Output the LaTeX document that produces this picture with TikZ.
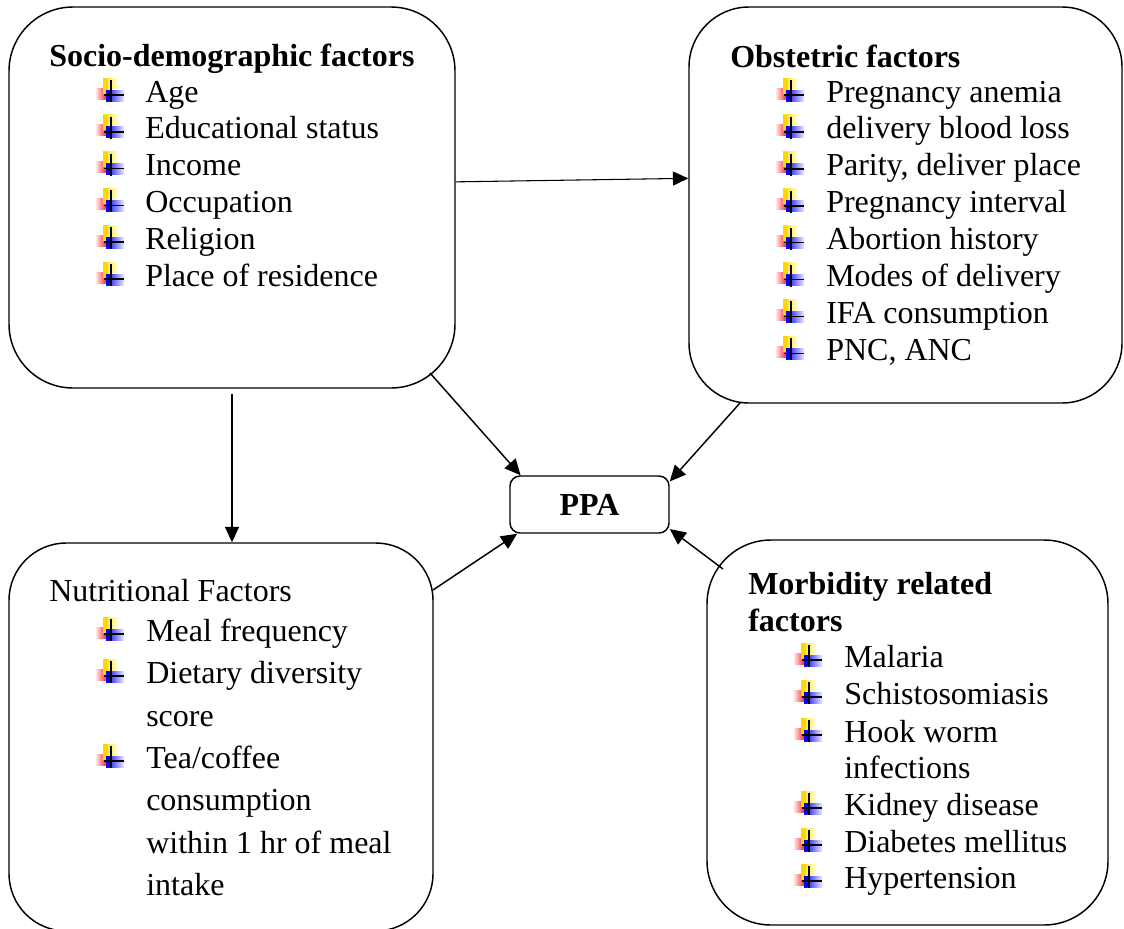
\documentclass[tikz,border=0pt]{standalone}
\usepackage{fontspec}
\setmainfont{Liberation Serif}
\usetikzlibrary{arrows.meta}
\newcommand\pxu{0.75pt}
\tikzset{
  bigbox/.style={draw, line width=1.1pt, inner sep=0pt},
  txt/.style={anchor=base west, inner sep=0pt, font=\fontsize{24}{28}\selectfont},
  ttl/.style={txt, font=\fontsize{24}{28}\selectfont\bfseries},
  thinarr/.style={line width=0.8pt, -{Triangle[length=11.5pt,width=10.5pt]}},
  arr/.style={line width=1.1pt, -{Triangle[length=12pt,width=11pt]}},
  bul/.pic={
    \shade[left color=red!10, right color=red!90] (0,-14) rectangle (11,-3);
    \shade[left color=yellow!75!orange, right color=yellow!10] (7,-24) rectangle (22,-9);
    \fill[yellow!75!orange] (7,-24) rectangle (12,-9);
    \shade[left color=blue, right color=blue!8] (10,-12) rectangle (28,-1);
    \fill[blue] (10,-12) rectangle (15,-1);
    \draw[line width=1.2pt] (15,-22) -- (15,0);
    \draw[line width=1.2pt] (8,-7) -- (28,-7);
  }
}
\begin{document}
\begin{tikzpicture}[x=0.75pt,y=-0.75pt]
\useasboundingbox (0,0) rectangle (1124,928);

% boxes
\node[bigbox, rounded corners=48pt, minimum width=446*\pxu, minimum height=381*\pxu] (soc) at (232,197.5) {};
\node[bigbox, rounded corners=45pt, minimum width=433*\pxu, minimum height=396*\pxu] (obs) at (905.5,205) {};
\node[bigbox, rounded corners=43pt, minimum width=424*\pxu, minimum height=388*\pxu] (nut) at (221,737) {};
\node[bigbox, rounded corners=48pt, minimum width=401*\pxu, minimum height=385*\pxu] (mor) at (907.5,732.5) {};
\node[bigbox, rounded corners=7.5pt, minimum width=159*\pxu, minimum height=57*\pxu,
      font=\fontsize{24}{28}\selectfont\bfseries] (ppa) at (589.5,504.5) {PPA};

% Socio-demographic
\node[ttl] (st) at (49,66) {Socio-demographic factors};
\foreach \t [count=\i from 0] in {Age,Educational status,Income,Occupation,Religion,Place of residence}{
  \node[txt] (s\i) at (145,102+36.8*\i) {\t};
  \pic at (96,102+36.8*\i) {bul};
}

% Obstetric
\node[ttl] (ot) at (730,67) {Obstetric factors};
\foreach \t [count=\i from 0] in {Pregnancy anemia,delivery blood loss,{Parity, deliver place},Pregnancy interval,Abortion history,Modes of delivery,IFA consumption,{PNC, ANC}}{
  \node[txt] (o\i) at (826,102+36.9*\i) {\t};
  \pic at (776,102+36.9*\i) {bul};
}

% Nutritional
\node[txt] (nt) at (49,601) {Nutritional Factors};
\node[txt] (n1) at (146,641) {Meal frequency};
\node[txt] (n2) at (146,683) {Dietary diversity};
\node[txt] (n3) at (146,726) {score};
\node[txt] (n4) at (146,768) {Tea/coffee};
\node[txt] (n5) at (146,810) {consumption};
\node[txt] (n6) at (146,853) {within 1 hr of meal};
\node[txt] (n7) at (146,895) {intake};
\pic at (96,641) {bul};
\pic at (96,683) {bul};
\pic at (96,768) {bul};

% Morbidity
\node[ttl] (mt1) at (748,594) {Morbidity related};
\node[ttl] (mt2) at (748,631) {factors};
\node[txt] (m1) at (844,667) {Malaria};
\node[txt] (m2) at (844,704) {Schistosomiasis};
\node[txt] (m3) at (844,742) {Hook worm};
\node[txt] (m4) at (844,778) {infections};
\node[txt] (m5) at (844,815) {Kidney disease};
\node[txt] (m6) at (844,852) {Diabetes mellitus};
\node[txt] (m7) at (844,888) {Hypertension};
\foreach \y in {667,704,742,815,852,888}{ \pic at (794,\y) {bul}; }

% connectors
\coordinate (c1) at (430,373);
\coordinate (c2) at (740,403);
\coordinate (c3) at (433,590);
\coordinate (c4) at (723,569);
\draw[thinarr] (soc.4.5) -- (obs.173.9);
\draw[thinarr, shorten <=3.75pt] (soc.south) -- (soc.south |- nut.north);
\draw[arr] (c1) -- (ppa.157.7);
\draw[arr] (c2) -- (ppa.16);
\draw[arr] (c3) -- (ppa.202.3);
\draw[arr] (c4) -- (ppa.-17);
\end{tikzpicture}
\end{document}
